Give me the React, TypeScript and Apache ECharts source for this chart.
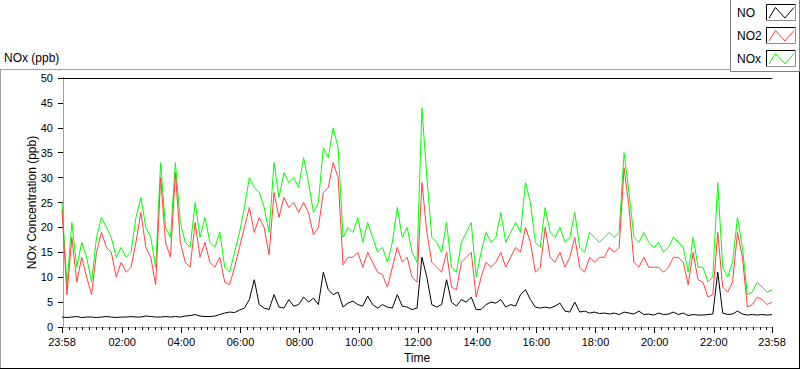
import React, { useEffect, useRef } from "react";
import * as echarts from "echarts";

// Sampled every 10 minutes starting at 23:58 (minute -2 relative to midnight)
const NO = [
  2.0, 1.9, 2.0, 2.1, 1.9, 2.0, 2.0, 1.9, 2.0, 2.1,
  2.0, 1.9, 2.0, 2.0, 2.1, 2.0, 2.0, 2.2, 2.1, 2.0,
  2.0, 2.1, 2.0, 2.1, 2.0, 2.2, 2.3, 2.5, 2.2, 2.1,
  2.1, 2.2, 2.5, 2.8, 3.0, 2.9, 3.4, 3.8, 5.5, 9.5,
  4.5, 3.8, 3.5, 6.5, 4.0, 3.8, 5.5, 4.2, 4.5, 6.0,
  5.0, 5.8, 4.5, 11, 7.5, 6.5, 7.0, 4.0, 4.8, 5.2,
  4.5, 4.2, 6.2, 4.5, 3.8, 4.5, 4.0, 3.8, 6.5, 4.2,
  4.0, 3.5, 3.8, 14, 10, 4.5, 4.0, 4.5, 9.5, 5.0,
  4.2, 5.5, 5.0, 6.0, 3.5, 3.5, 4.5, 5.0, 4.8, 5.5,
  4.0, 4.5, 4.2, 6.5, 7.5, 5.5, 4.0, 3.8, 4.0, 3.8,
  4.2, 4.8, 3.2, 3.0, 5.0, 3.0, 3.2, 2.8, 3.0, 2.7,
  2.8, 2.6, 2.8, 2.5, 3.0, 2.8, 2.6, 3.2, 2.5, 2.6,
  2.4, 2.8, 2.5, 2.6, 3.0, 2.5, 2.8, 2.3, 2.5, 2.4,
  2.4, 2.5, 2.6, 11, 2.8, 2.5, 2.6, 3.2, 2.6, 2.4,
  2.5, 2.4, 2.5, 2.4, 2.5,
];

const NO2 = [
  23.5, 6.5, 18, 9, 14, 10, 6.5, 15, 19, 16,
  15, 10, 13, 11, 12, 17, 23, 16, 14, 8.5,
  30, 17, 14, 31, 17, 13, 12, 21, 14, 17,
  13, 12, 14, 9, 8.5, 12, 16, 20, 24, 19,
  22, 20, 14.5, 27, 22, 26, 24, 25, 23, 25,
  23, 18.5, 20, 27, 28, 33, 30, 12.5, 14, 14,
  15, 12, 15, 13, 11, 10.5, 8, 12, 16, 13,
  14, 10, 9, 29, 19, 13, 12, 11, 15, 8,
  7.5, 13, 14, 15, 6, 10, 13, 12, 13, 15,
  12, 14, 16, 15, 20, 17, 11, 12, 20, 14,
  13, 15, 12, 14, 18, 12, 11, 14, 13, 14,
  14, 16, 15, 16, 32, 24, 13, 12, 14, 12,
  12, 12, 11, 12, 14, 14, 13, 8.5, 15, 9.5,
  9, 6, 6.5, 19, 8, 7, 9, 19, 14, 4,
  4.5, 6, 5.5, 4.5, 5,
];

const NOX = [
  25, 8.5, 21, 12, 17, 14, 9, 18, 22, 20,
  18, 14, 16, 14, 15, 22, 26, 20, 18, 12,
  33, 20, 18, 33, 21, 17, 16, 25, 18, 22,
  17, 16, 19, 12, 11, 15, 19, 24, 30, 28,
  27, 24, 19, 33, 26, 31, 29, 30, 28, 34,
  29, 23, 25, 36, 34, 40, 36, 18, 20, 19,
  22, 17, 21, 18, 15, 16, 13, 17, 24, 18,
  20, 15, 13, 44, 30, 18, 17, 15, 21, 12,
  11, 17, 19, 21, 10, 15, 19, 17, 18, 23,
  17, 19, 21, 19, 29, 25, 17, 16, 24, 19,
  18, 20, 17, 18, 23, 16, 15, 19, 18, 17,
  18, 19, 18, 19, 35, 27, 18, 17, 19, 17,
  16, 17, 15, 16, 18, 17, 16, 11, 18, 12,
  12, 9, 10, 29, 12, 10, 13, 22, 16, 6.5,
  7, 9, 8, 7, 7.5,
];

const SAMPLE_START = -2;
const SAMPLE_STEP = 10;
const TIMES = NOX.map((_, i) => SAMPLE_START + i * SAMPLE_STEP);

const X_MIN = -2;
const X_MAX = 1438;
const X_TICKS = [-2, 120, 240, 360, 480, 600, 720, 840, 960, 1080, 1200, 1320, 1438];
const X_LABELS = ["23:58", "02:00", "04:00", "06:00", "08:00", "10:00", "12:00", "14:00", "16:00", "18:00", "20:00", "22:00", "23:58"];
const Y_MIN = 0;
const Y_MAX = 50;
const Y_STEP = 5;

const SERIES_NAMES = ["NO", "NO2", "NOx"];
const COLORS = ["#000000", "#ff4040", "#00ff00"];

const MINOR_TICKS: number[] = [];
for (let h = 0; h < 1440; h += 120) {
  for (let k = 1; k < 9; k++) {
    const v = h + (k * 120) / 9;
    if (v < X_MAX) MINOR_TICKS.push(v);
  }
}

const FONT = "'Liberation Sans', Arial, sans-serif";

function legendItems() {
  const items: any[] = [];
  SERIES_NAMES.forEach((name, i) => {
    const oy = i * 23;
    items.push({
      type: "text",
      style: { text: name, x: 737, y: 13 + oy, fill: "#000", font: `12px ${FONT}`, verticalAlign: "middle", align: "left" },
    });
    items.push({
      type: "rect",
      shape: { x: 766.5, y: 4.5 + oy, width: 29, height: 16 },
      style: { fill: "#fff", stroke: null },
    });
    items.push({
      type: "polyline",
      shape: { points: [[766.5, 20.5 + oy], [766.5, 4.5 + oy], [795.5, 4.5 + oy]] },
      style: { stroke: "#000", lineWidth: 1, fill: null },
    });
    items.push({
      type: "polyline",
      shape: { points: [[795.5, 4.5 + oy], [795.5, 20.5 + oy], [766.5, 20.5 + oy]] },
      style: { stroke: "#909090", lineWidth: 1, fill: null },
    });
    items.push({
      type: "polyline",
      shape: { points: [[769, 18 + oy], [775.5, 7.5 + oy], [785, 18 + oy], [794, 7.5 + oy]] },
      style: { stroke: COLORS[i], lineWidth: 1, fill: null },
    });
  });
  return items;
}

export default function App() {
  const ref = useRef<HTMLDivElement>(null);
  useEffect(() => {
    if (!ref.current) return;
    const chart = echarts.init(ref.current, undefined, { renderer: "svg" });
    const seriesData = [NO, NO2, NOX];
    const order = [2, 1, 0];
    chart.setOption({
      animation: false,
      backgroundColor: "#ffffff",
      textStyle: { fontFamily: FONT },
      grid: { left: 62, top: 78, right: 28, bottom: 39, containLabel: false },
      xAxis: [
        {
          type: "value",
          min: X_MIN,
          max: X_MAX,
          position: "bottom",
          axisLine: { show: true, lineStyle: { color: "#a0a0a0", width: 1 } },
          axisTick: { show: true, customValues: X_TICKS, length: 6, lineStyle: { color: "#000" } },
          axisLabel: {
            customValues: X_TICKS,
            formatter: (v: number) => {
              const idx = X_TICKS.indexOf(v);
              return idx >= 0 ? X_LABELS[idx] : "";
            },
            fontSize: 11,
            color: "#000",
            margin: 9,
            fontFamily: FONT,
          },
          splitLine: { show: false },
          name: "Time",
          nameLocation: "middle",
          nameGap: 25,
          nameMoveOverlap: false,
          nameTextStyle: { fontSize: 12, color: "#000", fontFamily: FONT },
        },
        {
          type: "value",
          min: X_MIN,
          max: X_MAX,
          position: "bottom",
          axisLine: { show: false },
          axisTick: { show: true, customValues: MINOR_TICKS, length: 3, lineStyle: { color: "#000" } },
          axisLabel: { show: false },
          splitLine: { show: false },
        },
        {
          type: "value",
          min: X_MIN,
          max: X_MAX,
          position: "top",
          axisLine: { show: true, lineStyle: { color: "#000", width: 1 } },
          axisTick: { show: false },
          axisLabel: { show: false },
          splitLine: { show: false },
        },
      ],
      yAxis: [
        {
          type: "value",
          min: Y_MIN,
          max: Y_MAX,
          interval: Y_STEP,
          position: "left",
          axisLine: { show: true, lineStyle: { color: "#000", width: 1 } },
          axisTick: { show: true, length: 5, lineStyle: { color: "#000" } },
          axisLabel: { fontSize: 11, color: "#000", margin: 9, fontFamily: FONT },
          splitLine: { show: false },
          name: "NOx Concentration (ppb)",
          nameLocation: "middle",
          nameGap: 24,
          nameRotate: 90,
          nameMoveOverlap: false,
          nameTextStyle: { fontSize: 12, color: "#000", fontFamily: FONT },
        },
        {
          type: "value",
          min: Y_MIN,
          max: Y_MAX,
          interval: Y_STEP,
          position: "right",
          axisLine: { show: true, lineStyle: { color: "#a0a0a0", width: 1 } },
          axisTick: { show: false },
          axisLabel: { show: false },
          splitLine: { show: false },
        },
      ],
      series: order.map((k) => ({
        name: SERIES_NAMES[k],
        type: "line",
        xAxisIndex: 0,
        yAxisIndex: 0,
        showSymbol: false,
        symbol: "none",
        clip: true,
        lineStyle: { color: COLORS[k], width: 1 },
        itemStyle: { color: COLORS[k] },
        data: TIMES.map((t, i) => [t, seriesData[k][i]]),
      })),
      graphic: [
        { type: "line", shape: { x1: 0, y1: 69.5, x2: 731, y2: 69.5 }, style: { stroke: "#a0a0a0", lineWidth: 1 } },
        { type: "line", shape: { x1: 0.5, y1: 69.5, x2: 0.5, y2: 368 }, style: { stroke: "#a0a0a0", lineWidth: 1 } },
        { type: "line", shape: { x1: 0, y1: 368.5, x2: 800, y2: 368.5 }, style: { stroke: "#000", lineWidth: 1 } },
        { type: "line", shape: { x1: 799.5, y1: 69, x2: 799.5, y2: 369 }, style: { stroke: "#000", lineWidth: 1 } },
        {
          type: "text",
          style: { text: "NOx (ppb)", x: 4, y: 58, fill: "#000", font: `12px ${FONT}`, verticalAlign: "middle", align: "left" },
        },
        {
          type: "rect",
          shape: { x: 730.5, y: -0.5, width: 69, height: 72 },
          style: { fill: "#fff", stroke: "#808080", lineWidth: 1 },
        },
        ...legendItems(),
      ],
    });
    return () => chart.dispose();
  }, []);
  return <div ref={ref} style={{ position: "absolute", left: 0, top: 0, width: 800, height: 369 }} />;
}
